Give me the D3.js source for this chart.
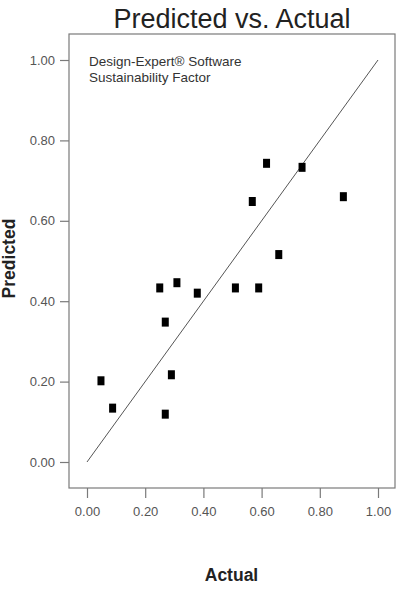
<!DOCTYPE html>
<html>
<head>
<meta charset="utf-8">
<script src="https://cdn.jsdelivr.net/npm/d3@7"></script>
<style>
  body { margin: 0; background: #fff; }
  svg text { font-family: "Liberation Sans", Arial, sans-serif; }
</style>
</head>
<body>
<div id="chart"></div>
<script>
const W = 412, H = 592;

// Data
const actual    = [0.617, 0.739, 0.568, 0.881, 0.659, 0.250, 0.309, 0.379, 0.510, 0.590, 0.269, 0.048, 0.290, 0.088, 0.269];
const predicted = [0.743, 0.733, 0.648, 0.660, 0.516, 0.433, 0.446, 0.420, 0.433, 0.433, 0.348, 0.202, 0.217, 0.134, 0.119];
const ticks     = [0, 0.2, 0.4, 0.6, 0.8, 1.0];
const legendLines = ["Design-Expert\u00AE Software", "Sustainability Factor"];

// Frame and scales
const FRAME = { left: 69, right: 395, top: 34, bottom: 488 };

const x = d3.scaleLinear().domain([0, 1]).range([87, 378]);
const y = d3.scaleLinear().domain([0, 1]).range([462, 60]);

const svg = d3.select("#chart").append("svg")
  .attr("width", W).attr("height", H);

// ── Frame ──
svg.append("rect")
  .attr("x", FRAME.left).attr("y", FRAME.top)
  .attr("width", FRAME.right - FRAME.left)
  .attr("height", FRAME.bottom - FRAME.top)
  .attr("fill", "none")
  .attr("stroke", "#7a7a7a")
  .attr("stroke-width", 1.2);

// ── Title ──
svg.append("text")
  .attr("x", 232).attr("y", 28)
  .attr("text-anchor", "middle")
  .style("font-size", "27px")
  .style("fill", "#222")
  .text("Predicted vs. Actual");

// ── Y axis ──
const yAxis = d3.axisLeft(y)
  .tickValues(ticks)
  .tickSize(9)
  .tickPadding(5)
  .tickFormat(d3.format(".2f"));

svg.append("g")
  .attr("transform", `translate(${FRAME.left},0)`)
  .call(yAxis)
  .call(g => g.select(".domain").remove())
  .call(g => g.selectAll(".tick line").attr("stroke", "#7a7a7a").attr("stroke-width", 1.2))
  .call(g => g.selectAll(".tick text")
    .style("font-size", "13px").style("fill", "#555")
    .style("font-family", "'Liberation Sans', Arial, sans-serif"));

// ── X axis ──
const xAxis = d3.axisBottom(x)
  .tickValues(ticks)
  .tickSize(10)
  .tickPadding(9)
  .tickFormat(d3.format(".2f"));

svg.append("g")
  .attr("transform", `translate(0,${FRAME.bottom})`)
  .call(xAxis)
  .call(g => g.select(".domain").remove())
  .call(g => g.selectAll(".tick line").attr("stroke", "#7a7a7a").attr("stroke-width", 1.2))
  .call(g => g.selectAll(".tick text")
    .style("font-size", "13px").style("fill", "#555")
    .style("font-family", "'Liberation Sans', Arial, sans-serif"));

// ── Axis titles ──
svg.append("text")
  .attr("x", 231.5).attr("y", 581)
  .attr("text-anchor", "middle")
  .style("font-size", "17.5px")
  .style("font-weight", "bold")
  .style("fill", "#222")
  .text("Actual");

svg.append("text")
  .attr("transform", "rotate(-90)")
  .attr("x", -258.5).attr("y", 15)
  .attr("text-anchor", "middle")
  .style("font-size", "17.5px")
  .style("font-weight", "bold")
  .style("fill", "#222")
  .text("Predicted");

// ── Legend text ──
legendLines.forEach((t, i) => {
  svg.append("text")
    .attr("x", 89).attr("y", 66 + i * 16)
    .style("font-size", "13.5px")
    .style("fill", "#333")
    .text(t);
});

// ── 45° reference line ──
svg.append("line")
  .attr("x1", x(0)).attr("y1", y(0))
  .attr("x2", x(1)).attr("y2", y(1))
  .attr("stroke", "#555")
  .attr("stroke-width", 1);

// ── Points ──
const MW = 7, MH = 9;
svg.append("g")
  .selectAll("rect")
  .data(actual.map((a, i) => ({ a, p: predicted[i] })))
  .join("rect")
  .attr("x", d => x(d.a) - MW / 2)
  .attr("y", d => y(d.p) - MH / 2)
  .attr("width", MW).attr("height", MH)
  .attr("fill", "#000");
</script>
</body>
</html>
